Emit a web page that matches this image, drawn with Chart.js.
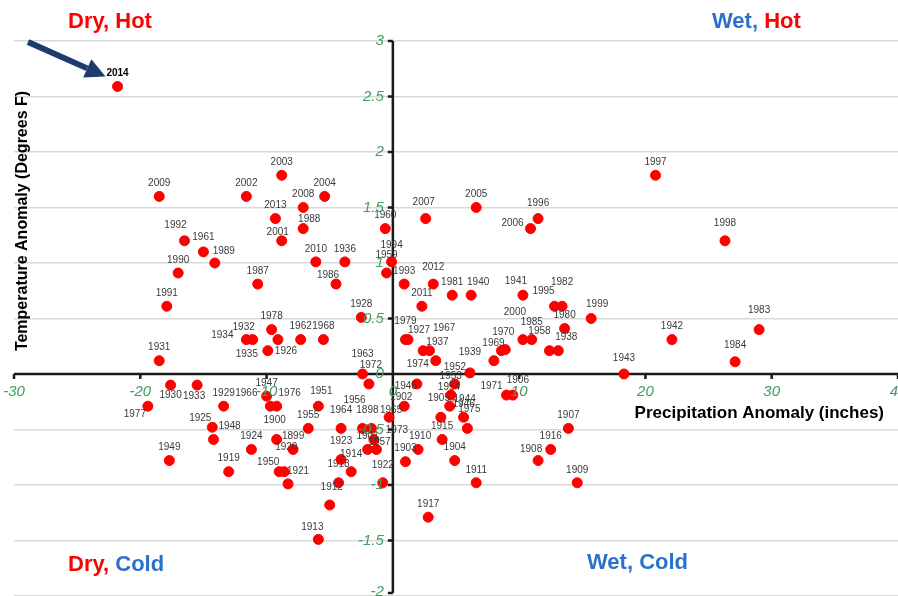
<!DOCTYPE html>
<html>
<head>
<meta charset="utf-8">
<script src="https://cdn.jsdelivr.net/npm/chart.js@4.4.1/dist/chart.umd.min.js"></script>
<style>
  html, body { margin: 0; padding: 0; background: #fff; }
  #wrap { width: 898px; height: 596px; }
</style>
</head>
<body>
<div id="wrap"><canvas id="chart" width="898" height="596"></canvas></div>
<script>
// one entry per year
var years = [
  1898, 1899, 1900, 1901, 1902, 1903, 1904, 1905, 1906, 1907, 1908, 1909, 1910,
  1911, 1912, 1913, 1914, 1915, 1916, 1917, 1918, 1919, 1920, 1921, 1922, 1923,
  1924, 1925, 1926, 1927, 1928, 1929, 1930, 1931, 1932, 1933, 1934, 1935, 1936,
  1937, 1938, 1939, 1940, 1941, 1942, 1943, 1944, 1945, 1946, 1947, 1948, 1949,
  1950, 1951, 1952, 1953, 1954, 1955, 1956, 1957, 1958, 1959, 1960, 1961, 1962,
  1963, 1964, 1965, 1966, 1967, 1968, 1969, 1970, 1971, 1972, 1973, 1974, 1975,
  1976, 1977, 1978, 1979, 1980, 1981, 1982, 1983, 1984, 1985, 1986, 1987, 1988,
  1989, 1990, 1991, 1992, 1993, 1994, 1995, 1996, 1997, 1998, 1999, 2000, 2001,
  2002, 2003, 2004, 2005, 2006, 2007, 2008, 2009, 2010, 2011, 2012, 2013, 2014
];
// precipitation anomaly (inches)
var precip = [
  -1.7, -7.9, -9.2, -2.0, 0.9, 1.0, 4.9, 3.8, 9.5, 13.9, 11.5, 14.6, 2.0,
  6.6, -5.0, -5.9, -3.3, 3.9, 12.5, 2.8, -4.3, -13.0, -8.6, -8.3, -0.8, -4.1,
  -11.2, -14.3, -9.1, 1.2, -2.5, -13.4, -17.6, -18.5, -11.1, -15.5, -11.6, -9.9, -3.8,
  2.9, 13.1, 8.0, 6.2, 10.3, 22.1, 18.3, 4.5, 1.9, 5.6, -10.0, -14.2, -17.7,
  -9.0, -5.9, 6.1, 4.9, 4.6, -6.7, -2.4, -1.3, 12.4, -0.5, -0.6, -15.0, -7.3,
  -2.4, -4.1, -0.3, -9.7, 2.4, -5.5, 8.6, 8.9, 9.0, -1.9, -1.5, 3.4, 5.9,
  -9.2, -19.4, -9.6, 1.0, 13.6, 4.7, 13.4, 29.0, 27.1, 11.0, -4.5, -10.7, -7.1,
  -14.1, -17.0, -17.9, -16.5, 0.9, -0.1, 12.8, 11.5, 20.8, 26.3, 15.7, 10.3, -8.8,
  -11.6, -8.8, -5.4, 6.6, 10.9, 2.6, -7.1, -18.5, -6.1, 2.3, 3.2, -9.3, -21.8
];
// temperature anomaly (degrees F)
var temp = [
  -0.49, -0.68, -0.59, -0.68, -0.29, -0.79, -0.78, -0.39, -0.19, -0.49, -0.78, -0.98, -0.68,
  -0.98, -1.18, -1.49, -0.88, -0.59, -0.68, -1.29, -0.98, -0.88, -0.88, -0.99, -0.98, -0.77,
  -0.68, -0.48, 0.31, 0.31, 0.51, -0.29, -0.10, 0.12, 0.31, -0.10, 0.31, 0.21, 1.01,
  0.21, 0.21, 0.12, 0.71, 0.71, 0.31, 0.00, -0.29, -0.09, -0.39, -0.20, -0.59, -0.78,
  -0.88, -0.29, 0.01, -0.09, -0.19, -0.49, -0.49, -0.68, 0.21, 0.91, 1.31, 1.10, 0.31,
  0.00, -0.49, -0.39, -0.29, 0.21, 0.31, 0.21, 0.22, -0.19, -0.09, -0.59, 0.12, -0.49,
  -0.29, -0.29, 0.40, 0.31, 0.41, 0.71, 0.61, 0.40, 0.11, 0.31, 0.81, 0.81, 1.31,
  1.00, 0.91, 0.61, 1.20, 0.81, 1.01, 0.61, 1.40, 1.79, 1.20, 0.50, 0.31, 1.20,
  1.60, 1.79, 1.60, 1.50, 1.31, 1.40, 1.50, 1.60, 1.01, 0.61, 0.81, 1.40, 2.59
];
var xTicks = [-30, -20, -10, 0, 10, 20, 30, 40];
var yTicks = [-2, -1.5, -1, -0.5, 0, 0.5, 1, 1.5, 2, 2.5, 3];
var xTitle = 'Precipitation Anomaly (inches)';
var yTitle = 'Temperature Anomaly (Degrees F)';
var highlightYear = 2014;

var RED = '#ff0000', BLUE = '#2a72c9', GREEN = '#449a62';

// where a year label sits relative to its dot (label centre, px); default is just above
var labelNudge = {
  1934: [-24, -4], 1932: [-9, -12], 1935: [-21, 4], 1926: [8, 12], 1979: [0, -18],
  1927: [11, -9], 1967: [21, -22], 1937: [8, -8], 1974: [-18, 4], 1939: [-24, -8],
  1969: [-8, -7], 1970: [-2, -17], 1952: [-15, -6], 2000: [-8, -27], 1985: [0, -17],
  1958: [-10, -19], 1938: [8, -13], 1995: [-11, -15], 1982: [0, -24], 1941: [-7, -14],
  2006: [-18, -5], 1996: [0, -15], 2012: [0, -17], 1940: [7, -13], 1959: [0, -18],
  1994: [0, -17], 1986: [-8, -9], 2001: [-4, -9], 1988: [6, -9], 2007: [-2, -16],
  1989: [9, -12], 1961: [0, -15], 1992: [-9, -16], 1963: [0, -20], 1972: [2, -19],
  1945: [-11, 2], 1953: [-4, -8], 1954: [-2, -8], 1905: [-2, -19], 1944: [15, -7],
  1975: [2, -19], 1971: [-15, -9], 1906: [5, -15], 1912: [2, -18], 1913: [-6, -12],
  1921: [10, -13], 1920: [2, -24], 1950: [-11, -9], 1900: [-2, -19], 1925: [-12, -9],
  1948: [16, -13], 1977: [-13, 8], 1930: [0, 10], 1933: [-3, 11], 1966: [-24, -13],
  1976: [13, -13], 1951: [3, -15], 1964: [0, -18], 1956: [-8, -28], 1898: [-4, -18],
  1923: [0, -18], 1914: [0, -17], 1918: [0, -19], 1922: [0, -18], 1957: [3, -7],
  1973: [23, -9], 1902: [-3, -9], 1965: [2, -7], 1984: [0, -17], 1983: [0, -19],
  1943: [0, -16], 1999: [6, -14], 1998: [0, -18], 1908: [-7, -11], 1910: [2, -13]
};

var points = years.map(function (yr, i) { return { x: precip[i], y: temp[i], year: yr }; });

var decor = {
  id: 'decor',
  beforeDatasetsDraw: function (chart) {
    var ctx = chart.ctx, xs = chart.scales.x, ys = chart.scales.y, a = chart.chartArea;
    var x0 = xs.getPixelForValue(0), y0 = ys.getPixelForValue(0);
    ctx.save();
    ctx.strokeStyle = '#1a1a1a';
    ctx.lineWidth = 2.5;
    ctx.beginPath();
    ctx.moveTo(a.left, y0); ctx.lineTo(a.right, y0);
    ctx.moveTo(x0, a.top); ctx.lineTo(x0, ys.getPixelForValue(-2) - 3);
    xTicks.forEach(function (v) {
      var px = xs.getPixelForValue(v);
      ctx.moveTo(px, y0); ctx.lineTo(px, y0 + 5);
    });
    yTicks.forEach(function (v) {
      var py = ys.getPixelForValue(v);
      if (v === -2) py -= 3;
      ctx.moveTo(x0 - 5, py); ctx.lineTo(x0, py);
    });
    ctx.stroke();
    ctx.restore();
  },
  afterDatasetsDraw: function (chart) {
    var ctx = chart.ctx, xs = chart.scales.x, ys = chart.scales.y;
    var x0 = xs.getPixelForValue(0), y0 = ys.getPixelForValue(0);
    ctx.save();

    // year labels next to each dot
    ctx.textAlign = 'center';
    ctx.textBaseline = 'middle';
    points.forEach(function (p) {
      var px = xs.getPixelForValue(p.x), py = ys.getPixelForValue(p.y);
      var n = labelNudge[p.year] || [0, -13];
      if (p.year === highlightYear) {
        ctx.font = 'bold 10px "Liberation Sans"';
        ctx.fillStyle = '#000';
      } else {
        ctx.font = '10px "Liberation Sans"';
        ctx.fillStyle = '#3a3a3a';
      }
      ctx.fillText(String(p.year), px + n[0], py + n[1]);
    });

    // tick labels, green italic
    ctx.fillStyle = GREEN;
    ctx.font = 'italic 15px "Liberation Sans"';
    ctx.textAlign = 'center';
    xTicks.forEach(function (v) {
      ctx.fillText(String(v), xs.getPixelForValue(v), y0 + 18);
    });
    ctx.textAlign = 'right';
    yTicks.forEach(function (v) {
      var py = ys.getPixelForValue(v);
      if (v === -2) py -= 4;
      ctx.fillText(String(v), x0 - 9, py);
    });

    // axis titles
    ctx.fillStyle = '#000';
    ctx.font = 'bold 17px "Liberation Sans"';
    ctx.textAlign = 'right';
    ctx.fillText(xTitle, 884, y0 + 39);
    ctx.save();
    ctx.translate(23, 221);
    ctx.rotate(-Math.PI / 2);
    ctx.textAlign = 'center';
    ctx.font = 'bold 16px "Liberation Sans"';
    ctx.fillText(yTitle, 0, 0);
    ctx.restore();

    // quadrant captions
    function caption(parts, x, y) {
      ctx.font = 'bold 22px "Liberation Sans"';
      ctx.textAlign = 'left';
      ctx.textBaseline = 'middle';
      parts.forEach(function (pt) {
        ctx.fillStyle = pt[1];
        ctx.fillText(pt[0], x, y);
        x += ctx.measureText(pt[0]).width;
      });
    }
    caption([['Dry, Hot', RED]], 68, 22);
    caption([['Wet, ', BLUE], ['Hot', RED]], 712, 22);
    caption([['Dry, ', RED], ['Cold', BLUE]], 68, 565);
    caption([['Wet, Cold', BLUE]], 587, 563);

    // arrow pointing at the newest year
    var hi = years.indexOf(highlightYear);
    var tip = { x: xs.getPixelForValue(precip[hi]) - 12, y: ys.getPixelForValue(temp[hi]) - 10 };
    var tail = { x: 28, y: 42 };
    var ang = Math.atan2(tip.y - tail.y, tip.x - tail.x);
    var headLen = 20, headW = 10;
    var bx = tip.x - headLen * Math.cos(ang), by = tip.y - headLen * Math.sin(ang);
    ctx.strokeStyle = '#1f3a6e';
    ctx.fillStyle = '#1f3a6e';
    ctx.lineWidth = 6;
    ctx.beginPath();
    ctx.moveTo(tail.x, tail.y);
    ctx.lineTo(bx, by);
    ctx.stroke();
    ctx.beginPath();
    ctx.moveTo(tip.x, tip.y);
    ctx.lineTo(bx + headW * Math.sin(ang), by - headW * Math.cos(ang));
    ctx.lineTo(bx - headW * Math.sin(ang), by + headW * Math.cos(ang));
    ctx.closePath();
    ctx.fill();

    ctx.restore();
  }
};

new Chart(document.getElementById('chart'), {
  type: 'scatter',
  data: {
    datasets: [{
      data: points,
      backgroundColor: RED,
      borderColor: RED,
      pointRadius: 5,
      pointHoverRadius: 5
    }]
  },
  options: {
    responsive: false,
    animation: false,
    layout: { autoPadding: false, padding: { left: 14, top: 41, right: 0, bottom: 0 } },
    plugins: { legend: { display: false }, tooltip: { enabled: false } },
    scales: {
      x: {
        type: 'linear', min: -30, max: 40, display: false,
        ticks: { stepSize: 10 }
      },
      y: {
        type: 'linear', min: -2, max: 3,
        ticks: { display: false, stepSize: 0.5 },
        grid: { color: '#d9d9d9', lineWidth: 1.5, drawTicks: false },
        border: { display: false }
      }
    }
  },
  plugins: [decor]
});
</script>
</body>
</html>
